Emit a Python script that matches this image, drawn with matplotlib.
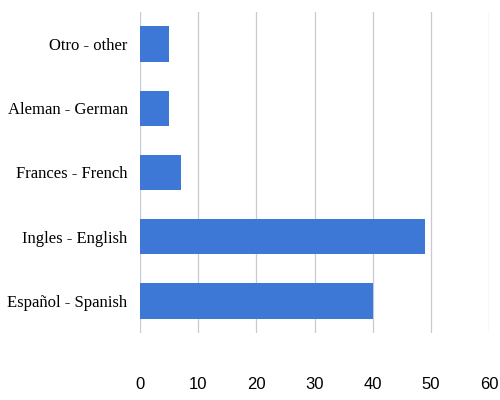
import matplotlib.pyplot as plt

categories = ['Español - Spanish', 'Ingles - English', 'Frances - French',
              'Aleman - German', 'Otro - other']
values = [40, 49, 7, 5, 5]
xticks = [0, 10, 20, 30, 40, 50, 60]

fig = plt.figure(figsize=(5, 4), dpi=100)
ax = fig.add_axes([0.28, 0.1675, 0.698, 0.8025])

ax.barh(range(len(categories)), values, height=0.55, color='#3d78d6', zorder=3)

ax.set_xlim(0, 60)
ax.set_ylim(-0.5, len(categories) - 0.5)
ax.set_xticks(xticks)
ax.set_yticks(range(len(categories)))
ax.set_yticklabels(categories, family='Liberation Serif', fontsize=12)
ax.set_xticklabels([str(t) for t in xticks], family='Liberation Sans', fontsize=12)

ax.grid(axis='x', color='#c9c9d2', linewidth=0.9, zorder=0)
for s in ax.spines.values():
    s.set_visible(False)
ax.tick_params(axis='x', length=0, pad=32)
ax.tick_params(axis='y', length=0, pad=9)

fig.savefig('out.png', dpi=100)
